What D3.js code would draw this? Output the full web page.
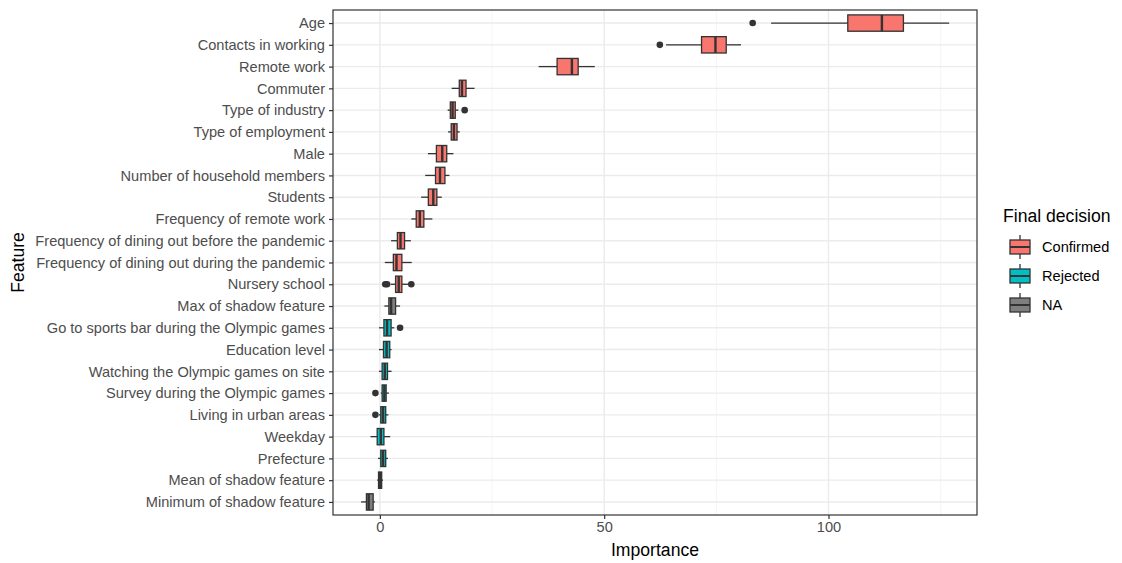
<!doctype html>
<html>
<head>
<meta charset="utf-8">
<title>Boruta feature importance</title>
<script src="https://d3js.org/d3.v7.min.js"></script>
<style>
  body { margin: 0; background: #fff; }
  text { font-family: "Liberation Sans", Arial, sans-serif; }
</style>
</head>
<body>
<script>
// feature names, top to bottom
var features = ["Age", "Contacts in working", "Remote work", "Commuter", "Type of industry",
  "Type of employment", "Male", "Number of household members", "Students",
  "Frequency of remote work", "Frequency of dining out before the pandemic",
  "Frequency of dining out during the pandemic", "Nursery school", "Max of shadow feature",
  "Go to sports bar during the Olympic games", "Education level",
  "Watching the Olympic games on site", "Survey during the Olympic games",
  "Living in urban areas", "Weekday", "Prefecture", "Mean of shadow feature",
  "Minimum of shadow feature"];
var decision = ["Confirmed", "Confirmed", "Confirmed", "Confirmed", "Confirmed",
  "Confirmed", "Confirmed", "Confirmed", "Confirmed", "Confirmed", "Confirmed",
  "Confirmed", "Confirmed", "NA", "Rejected", "Rejected", "Rejected", "Rejected",
  "Rejected", "Rejected", "Rejected", "NA", "NA"];
var whiskerLo = [87.2, 63.8, 35.4, 16.0, 15.1, 15.2, 10.7, 10.1, 9.2, 7.0, 2.5, 1.1, 2.4, 1.0, -0.2, -0.2, -0.2, 0.2, -0.2, -2.1, -0.4, -0.6, -4.2];
var q1        = [104.3, 71.7, 39.5, 17.7, 15.7, 15.9, 12.6, 12.4, 10.8, 8.1, 3.9, 3.0, 3.5, 2.0, 0.9, 0.8, 0.5, 0.5, 0.2, -0.6, 0.2, -0.3, -3.0];
var median    = [111.9, 74.8, 42.8, 18.3, 16.2, 16.5, 13.9, 13.4, 11.9, 8.9, 4.6, 3.7, 4.2, 2.5, 1.6, 1.5, 1.1, 1.0, 0.7, 0.2, 0.7, 0.0, -2.5];
var q3        = [116.7, 77.2, 44.2, 19.2, 16.8, 17.2, 14.9, 14.5, 12.7, 9.8, 5.5, 4.9, 4.9, 3.5, 2.5, 2.2, 1.7, 1.4, 1.3, 0.9, 1.3, 0.4, -1.5];
var whiskerHi = [126.9, 80.5, 47.9, 21.1, 17.5, 17.8, 16.4, 15.5, 13.8, 11.7, 6.9, 7.1, 6.4, 4.5, 3.2, 2.6, 2.6, 2.0, 1.9, 2.3, 1.8, 0.7, -1.1];
// outliers: [feature index, value]
var outliers = [[0, 83.1], [1, 62.4], [4, 18.9], [12, 1.2], [12, 1.6], [12, 7.0], [14, 4.5], [17, -1.0], [18, -1.0]];

var legendLabels = ["Confirmed", "Rejected", "NA"];
var legendColors = ["#F8766D", "#00BFC4", "#7F7F7F"];
var xTicks = [0, 50, 100];
var xMinor = [25, 75, 125];

var W = 1122, H = 563;
var panel = {left: 333, right: 977, top: 10, bottom: 515};
var smallFont = "14.6px", titleFont = "17.6px";

var svg = d3.select("body").append("svg")
    .attr("width", W)
    .attr("height", H);

var fill = d3.scaleOrdinal().domain(legendLabels).range(legendColors);

var x = d3.scaleLinear()
    .domain([-10.45, 133.1])
    .range([panel.left, panel.right]);

var y = d3.scalePoint()
    .domain(features)
    .range([panel.top, panel.bottom])
    .padding(0.6);

var step = y.step();
var boxH = step * 0.75;

// grid
var grid = svg.append("g");
grid.selectAll(".minor").data(xMinor).enter().append("line")
    .attr("x1", d => x(d)).attr("x2", d => x(d))
    .attr("y1", panel.top).attr("y2", panel.bottom)
    .attr("stroke", "#F2F2F2").attr("stroke-width", 0.8);
grid.selectAll(".major").data(xTicks).enter().append("line")
    .attr("x1", d => x(d)).attr("x2", d => x(d))
    .attr("y1", panel.top).attr("y2", panel.bottom)
    .attr("stroke", "#EBEBEB").attr("stroke-width", 1.4);
grid.selectAll(".hmajor").data(features).enter().append("line")
    .attr("x1", panel.left).attr("x2", panel.right)
    .attr("y1", d => y(d)).attr("y2", d => y(d))
    .attr("stroke", "#EBEBEB").attr("stroke-width", 1.4);

// boxes
var boxes = svg.append("g").selectAll("g").data(features).enter().append("g");

boxes.append("line")
    .attr("x1", (d, i) => x(whiskerLo[i])).attr("x2", (d, i) => x(q1[i]))
    .attr("y1", d => y(d)).attr("y2", d => y(d))
    .attr("stroke", "#333333").attr("stroke-width", 1.3);
boxes.append("line")
    .attr("x1", (d, i) => x(q3[i])).attr("x2", (d, i) => x(whiskerHi[i]))
    .attr("y1", d => y(d)).attr("y2", d => y(d))
    .attr("stroke", "#333333").attr("stroke-width", 1.3);
boxes.append("rect")
    .attr("x", (d, i) => x(q1[i]))
    .attr("width", (d, i) => x(q3[i]) - x(q1[i]))
    .attr("y", d => y(d) - boxH / 2)
    .attr("height", boxH)
    .attr("fill", (d, i) => fill(decision[i]))
    .attr("stroke", "#333333").attr("stroke-width", 1.3);
boxes.append("line")
    .attr("x1", (d, i) => x(median[i])).attr("x2", (d, i) => x(median[i]))
    .attr("y1", d => y(d) - boxH / 2).attr("y2", d => y(d) + boxH / 2)
    .attr("stroke", "#333333").attr("stroke-width", 2.4);

svg.append("g").selectAll("circle").data(outliers).enter().append("circle")
    .attr("cx", d => x(d[1]))
    .attr("cy", d => y(features[d[0]]))
    .attr("r", 3.3)
    .attr("fill", "#333333");

// panel border
svg.append("rect")
    .attr("x", panel.left).attr("y", panel.top)
    .attr("width", panel.right - panel.left).attr("height", panel.bottom - panel.top)
    .attr("fill", "none").attr("stroke", "#333333").attr("stroke-width", 1.2);

// axes
var xAxis = svg.append("g")
    .attr("transform", "translate(0," + panel.bottom + ")")
    .call(d3.axisBottom(x).tickValues(xTicks).tickSize(4).tickPadding(3));
var yAxis = svg.append("g")
    .attr("transform", "translate(" + panel.left + ",0)")
    .call(d3.axisLeft(y).tickSize(4).tickPadding(4));
[xAxis, yAxis].forEach(function(a) {
  a.select(".domain").remove();
  a.selectAll("line").attr("stroke", "#333333").attr("stroke-width", 1.2);
  a.selectAll("text").attr("fill", "#4D4D4D").style("font-size", smallFont)
    .style("font-family", "'Liberation Sans', Arial, sans-serif");
});

svg.append("text")
    .attr("x", (panel.left + panel.right) / 2).attr("y", 556)
    .attr("text-anchor", "middle")
    .style("font-size", titleFont)
    .text("Importance");
svg.append("text")
    .attr("transform", "translate(24," + (panel.top + panel.bottom) / 2 + ") rotate(-90)")
    .attr("text-anchor", "middle")
    .style("font-size", titleFont)
    .text("Feature");

// legend
var legend = svg.append("g").attr("transform", "translate(1003,0)");
legend.append("text")
    .attr("x", 0).attr("y", 222)
    .style("font-size", titleFont)
    .text("Final decision");
var items = legend.selectAll(".item").data(legendLabels).enter().append("g")
    .attr("transform", (d, i) => "translate(0," + (247 + i * 29) + ")");
items.append("line")
    .attr("x1", 17).attr("x2", 17).attr("y1", -12).attr("y2", 12)
    .attr("stroke", "#333333").attr("stroke-width", 1.3);
items.append("rect")
    .attr("x", 7).attr("y", -7).attr("width", 20).attr("height", 14)
    .attr("fill", d => fill(d))
    .attr("stroke", "#333333").attr("stroke-width", 1.3);
items.append("line")
    .attr("x1", 7).attr("x2", 27).attr("y1", 0).attr("y2", 0)
    .attr("stroke", "#333333").attr("stroke-width", 2);
items.append("text")
    .attr("x", 39).attr("y", 5)
    .style("font-size", smallFont)
    .attr("fill", "#000")
    .text(d => d);
</script>
</body>
</html>
